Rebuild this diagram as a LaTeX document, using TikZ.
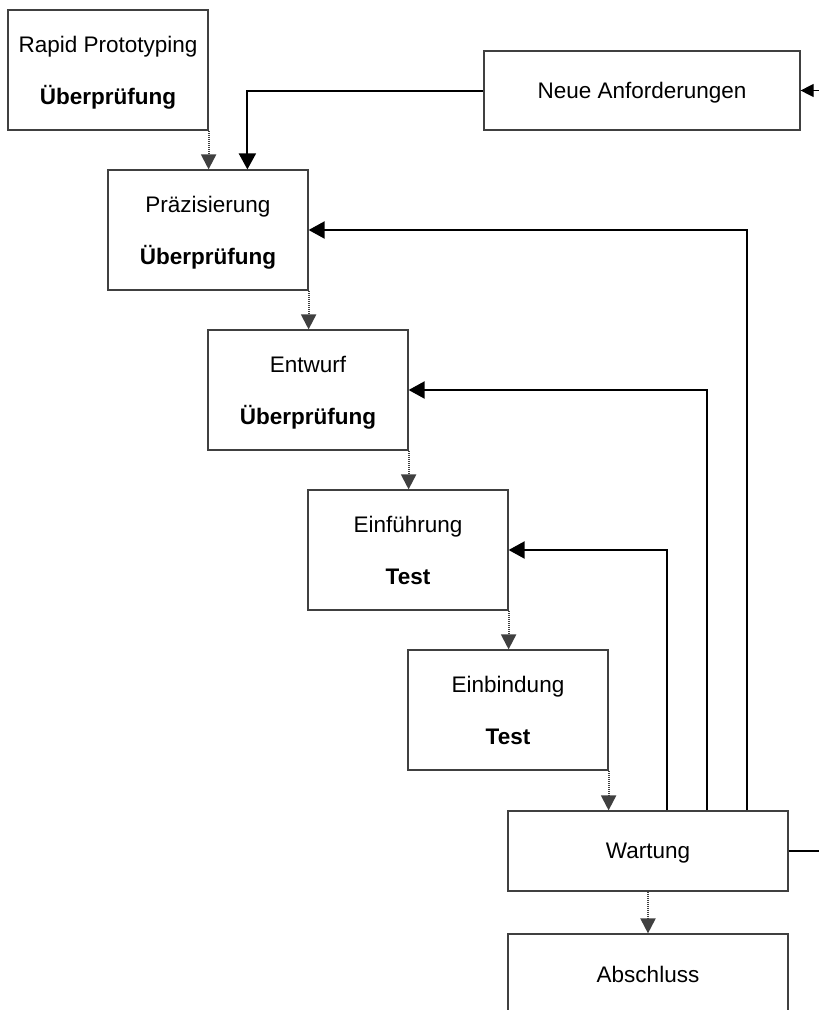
\documentclass[tikz,border=0pt]{standalone}
\usepackage{fontspec}
\setmainfont{Liberation Sans}
\usetikzlibrary{arrows.meta}
\begin{document}
\begin{tikzpicture}[x=1pt,y=-1pt,
  box/.style={draw=black!75, line width=1.2pt, minimum width=200pt, minimum height=120pt,
    inner sep=0pt, text depth=0pt, align=center, font=\fontsize{22.5}{52}\selectfont},
  widebox/.style={box, minimum width=280pt, minimum height=80pt},
  flow/.style={draw=black!75, line width=2pt, dash pattern=on 1.5pt off 0.5pt,
    -{Triangle[width=15pt,length=15pt]}},
  back/.style={draw=black, line width=2pt, -{Triangle[width=17pt,length=16pt]}},
  ext/.style={draw=black, line width=1.2pt}
]
\useasboundingbox (0,0) rectangle (819,1010);

% process phases
\node[box] (rapid)  at (108,70)  {Rapid Prototyping\\\textbf{Überprüfung}};
\node[box] (praez)  at (208,230) {Präzisierung\\\textbf{Überprüfung}};
\node[box] (entw)   at (308,390) {Entwurf\\\textbf{Überprüfung}};
\node[box] (einf)   at (408,550) {Einführung\\\textbf{Test}};
\node[box] (einb)   at (508,710) {Einbindung\\\textbf{Test}};
\node[box, minimum width=316pt, minimum height=79pt] (neue) at (642,90.5) {Neue Anforderungen};
\node[widebox] (wart) at (648,851) {Wartung};
\node[widebox] (absch) at (648,974) {Abschluss};

% forward flow
\draw[flow] (rapid.south east) -- (rapid.south east |- praez.north);
\draw[flow] (praez.south east) -- (praez.south east |- entw.north);
\draw[flow] (entw.south east)  -- (entw.south east |- einf.north);
\draw[flow] (einf.south east)  -- (einf.south east |- einb.north);
\draw[flow] (einb.south east)  -- (einb.south east |- wart.north);
\draw[flow] (wart.south) -- (absch.north);

% feedback from maintenance
\draw[back] ([xshift=240pt]wart.north west) |- (praez.east);
\draw[back] ([xshift=200pt]wart.north west) |- (entw.east);
\draw[back] ([xshift=160pt]wart.north west) |- (einf.east);

% new requirements
\draw[back] (neue.west) -| ([xshift=140pt]praez.north west);

% connections leaving the sheet on the right
\coordinate (offN) at (835,90.5);
\coordinate (offW) at (835,851);
\draw[ext, -{Triangle[width=13pt,length=13pt]}] (offN) -- (neue.east);
\draw[ext] (wart.east) -- (offW);
\end{tikzpicture}
\end{document}
